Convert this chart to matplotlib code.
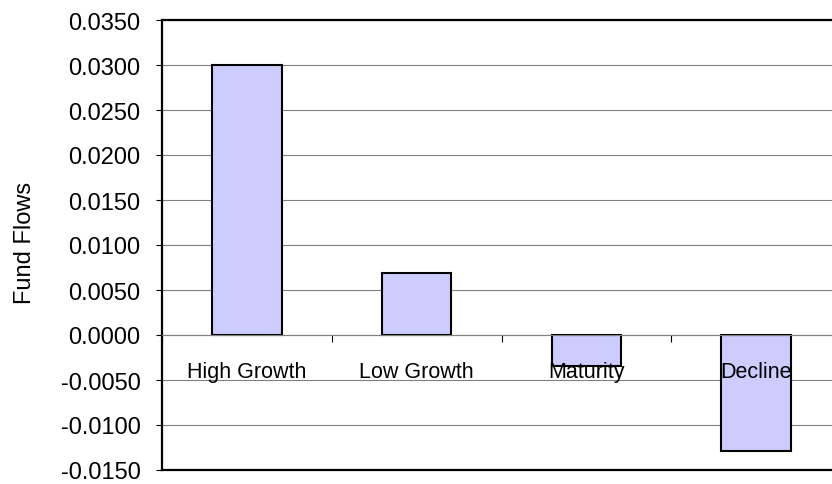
import numpy as np
import matplotlib
matplotlib.use("Agg")
import matplotlib.pyplot as plt

# Fund flows by life-cycle stage
categories = ["High Growth", "Low Growth", "Maturity", "Decline"]
fund_flows = [0.0300, 0.0069, -0.0034, -0.0129]
y_ticks = [-0.015, -0.010, -0.005, 0.000, 0.005, 0.010, 0.015, 0.020, 0.025, 0.030, 0.035]

plt.rcParams['font.family'] = ['Liberation Sans', 'DejaVu Sans']
plt.rcParams['font.size'] = 17

fig = plt.figure(figsize=(8.32, 4.85), dpi=100)
# right edge runs just past the picture, so no right frame line shows
ax = fig.add_axes([162 / 832, 1 - 471 / 485, 679 / 832, 450 / 485])

x = np.arange(len(categories))
ax.bar(x, fund_flows, width=0.41, color='#CCCCFF', edgecolor='black',
       linewidth=1.5, zorder=3)

ax.set_xlim(-0.5, len(categories) - 0.5)
ax.set_ylim(y_ticks[0], y_ticks[-1])
ax.set_yticks(y_ticks)
ax.set_yticklabels([f"{v:.4f}" for v in y_ticks])
ax.yaxis.grid(True, color='#808080', linewidth=0.8, zorder=0)
ax.set_axisbelow(True)
ax.tick_params(axis='y', direction='out', length=4.5, width=0.8, pad=11)
ax.set_xticks([])
for s in ['top', 'left', 'bottom']:
    ax.spines[s].set_linewidth(1.6)
ax.spines['right'].set_visible(False)

# category axis sits on the zero line, labels drawn over the bars
zero_pos = (0 - y_ticks[0]) / (y_ticks[-1] - y_ticks[0])
secax = ax.secondary_xaxis(zero_pos)
secax.set_zorder(5)
secax.set_alignment('bottom')
secax.set_xticks(np.arange(len(categories) + 1) - 0.5)
secax.set_xticklabels([])
secax.set_xticks(x, minor=True)
secax.set_xticklabels(categories, minor=True, fontsize=15.5)
secax.tick_params(axis='x', which='major', direction='out', length=5, width=0.8)
secax.tick_params(axis='x', which='minor', length=0, pad=18.5)
secax.spines['bottom'].set_color('#808080')
secax.spines['bottom'].set_linewidth(0.8)

fig.text(25 / 832, 1 - 243 / 485, "Fund Flows", rotation=90,
         ha='center', va='center')

fig.savefig("out.png", dpi=100)
